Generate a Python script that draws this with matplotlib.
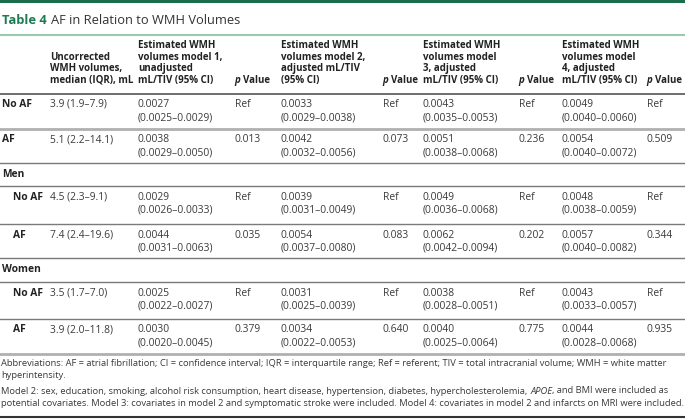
import matplotlib
matplotlib.use("Agg")
import matplotlib.pyplot as plt
from matplotlib import font_manager

# Table values
status = ["No AF", "AF"]
groups = ["", "Men", "Women"]
uncorrected = ["3.9 (1.9–7.9)", "5.1 (2.2–14.1)", "4.5 (2.3–9.1)",
               "7.4 (2.4–19.6)", "3.5 (1.7–7.0)", "3.9 (2.0–11.8)"]

m1_est = [0.0027, 0.0038, 0.0029, 0.0044, 0.0025, 0.0030]
m1_lo = [0.0025, 0.0029, 0.0026, 0.0031, 0.0022, 0.0020]
m1_hi = [0.0029, 0.0050, 0.0033, 0.0063, 0.0027, 0.0045]
m1_p = ["Ref", "0.013", "Ref", "0.035", "Ref", "0.379"]

m2_est = [0.0033, 0.0042, 0.0039, 0.0054, 0.0031, 0.0034]
m2_lo = [0.0029, 0.0032, 0.0031, 0.0037, 0.0025, 0.0022]
m2_hi = [0.0038, 0.0056, 0.0049, 0.0080, 0.0039, 0.0053]
m2_p = ["Ref", "0.073", "Ref", "0.083", "Ref", "0.640"]

m3_est = [0.0043, 0.0051, 0.0049, 0.0062, 0.0038, 0.0040]
m3_lo = [0.0035, 0.0038, 0.0036, 0.0042, 0.0028, 0.0025]
m3_hi = [0.0053, 0.0068, 0.0068, 0.0094, 0.0051, 0.0064]
m3_p = ["Ref", "0.236", "Ref", "0.202", "Ref", "0.775"]

m4_est = [0.0049, 0.0054, 0.0048, 0.0057, 0.0043, 0.0044]
m4_lo = [0.0040, 0.0040, 0.0038, 0.0040, 0.0033, 0.0028]
m4_hi = [0.0060, 0.0072, 0.0059, 0.0082, 0.0057, 0.0068]
m4_p = ["Ref", "0.509", "Ref", "0.344", "Ref", "0.935"]

headers = [
    ["Uncorrected", "WMH volumes,", "median (IQR), mL"],
    ["Estimated WMH", "volumes model 1,", "unadjusted", "mL/TIV (95% CI)"],
    ["Estimated WMH", "volumes model 2,", "adjusted mL/TIV", "(95% CI)"],
    ["Estimated WMH", "volumes model", "3, adjusted", "mL/TIV (95% CI)"],
    ["Estimated WMH", "volumes model", "4, adjusted", "mL/TIV (95% CI)"],
]

title_num = "Table 4"
title_text = "AF in Relation to WMH Volumes"

foot_lines = [
    [("Abbreviations: AF = atrial fibrillation; CI = confidence interval; IQR = interquartile range; "
      "Ref = referent; TIV = total intracranial volume; WMH = white matter", "normal")],
    [("hyperintensity.", "normal")],
    [("Model 2: sex, education, smoking, alcohol risk consumption, heart disease, hypertension, "
      "diabetes, hypercholesterolemia,", "normal"), (" APOE", "italic"),
     (", and BMI were included as", "normal")],
    [("potential covariates. Model 3: covariates in model 2 and symptomatic stroke were included. "
      "Model 4: covariates in model 2 and infarcts on MRI were included.", "normal")],
]

W, H = 685, 420
FONT = "Open Sans"
try:
    font_manager.findfont("Liberation Sans Narrow", fallback_to_default=False)
    FOOT_FONT = "Liberation Sans Narrow"
except Exception:
    FOOT_FONT = FONT

GREEN = "#1b6d4b"
TXT = "#3a3a3a"
DARK = "#222222"
BODY = 7.4
HEAD = 7.0

fig = plt.figure(figsize=(W / 100, H / 100), dpi=100)
ax = fig.add_axes([0, 0, 1, 1])
ax.set_xlim(0, W)
ax.set_ylim(H, 0)
ax.axis("off")
renderer = fig.canvas.get_renderer()


def space_w(size):
    return 0.3 * size * 100 / 72


def runs(x, y, parts, size, family, color, weight="normal"):
    # draw text pieces one after another, each with its own style
    for txt, style in parts:
        lead = len(txt) - len(txt.lstrip(" "))
        x += lead * space_w(size)
        t = ax.text(x, y, txt.lstrip(" "), fontsize=size, family=family, style=style,
                    weight=weight, color=color, va="center", ha="left")
        x += t.get_window_extent(renderer=renderer).width
    return x


# top bar and title
ax.fill_between([0, W], 0, 3, color=GREEN, lw=0)
x = runs(2, 21, [(title_num, "normal")], 9.3, FONT, "#1e7a52", weight="bold")
runs(x + 4, 21, [(title_text, "normal")], 9.3, FONT, "#333333")
ax.plot([0, W], [34.5, 34.5], color="#9cc9ad", lw=1.5)

# header
col_x = [50, 138, 281, 423, 562]
p_x = [235, 383, 519, 647]
head_y = [46, 57.5, 69, 80.5]
for cx, lines in zip(col_x, headers):
    off = 4 - len(lines)
    for i, line in enumerate(lines):
        ax.text(cx, head_y[i + off], line, fontsize=HEAD, family=FONT, weight="bold",
                color=DARK, va="center", ha="left")
for px in p_x:
    runs(px - 1, head_y[3], [("p", "italic"), (" Value", "normal")], HEAD, FONT, DARK,
         weight="bold")
ax.plot([0, W], [93.5, 93.5], color="#555555", lw=1.2)

# body rows
models = [(m1_est, m1_lo, m1_hi, m1_p), (m2_est, m2_lo, m2_hi, m2_p),
          (m3_est, m3_lo, m3_hi, m3_p), (m4_est, m4_lo, m4_hi, m4_p)]
row_tops = [93.5, 129, 163, 186, 224, 258, 282, 319, 354]
top_i = 0
k = 0
for g, grp in enumerate(groups):
    if grp:
        y0, y1 = row_tops[top_i], row_tops[top_i + 1]
        ax.text(2, (y0 + y1) / 2, grp, fontsize=BODY, family=FONT, weight="bold",
                color=DARK, va="center", ha="left")
        ax.plot([0, W], [y1, y1], color="#7a7a7a", lw=1.0)
        top_i += 1
    for s, lab in enumerate(status):
        y0, y1 = row_tops[top_i], row_tops[top_i + 1]
        ty = y0 + 11
        ax.text(13 if grp else 2, ty, lab, fontsize=BODY, family=FONT, weight="bold",
                color=DARK, va="center", ha="left")
        ax.text(col_x[0], ty, uncorrected[k], fontsize=BODY, family=FONT, color=TXT,
                va="center", ha="left")
        for m, (est, lo, hi, pv) in enumerate(models):
            ax.text(col_x[m + 1], ty, f"{est[k]:.4f}", fontsize=BODY, family=FONT, color=TXT,
                    va="center", ha="left")
            ax.text(col_x[m + 1], ty + 13, f"({lo[k]:.4f}–{hi[k]:.4f})", fontsize=BODY,
                    family=FONT, color=TXT, va="center", ha="left")
            ax.text(p_x[m], ty, pv[k], fontsize=BODY, family=FONT, color=TXT,
                    va="center", ha="left")
        last = top_i + 1 == len(row_tops) - 1
        if last or (g == 0 and s == 0):
            ax.plot([0, W], [y1, y1], color="#b0b0b0", lw=2.0)
        else:
            ax.plot([0, W], [y1, y1], color="#7a7a7a", lw=1.0)
        top_i += 1
        k += 1

# footnote, size fitted to the page width
probe = ax.text(0, 0, foot_lines[0][0][0], fontsize=7, family=FOOT_FONT)
fw = probe.get_window_extent(renderer=renderer).width
probe.remove()
fsize = 7 * 681 / fw
for yy, parts in zip([363, 376, 391, 404], foot_lines):
    runs(1, yy, parts, fsize, FOOT_FONT, TXT)
ax.plot([0, W], [416.5, 416.5], color="#333333", lw=1.5)

fig.savefig("out.png", dpi=100)
